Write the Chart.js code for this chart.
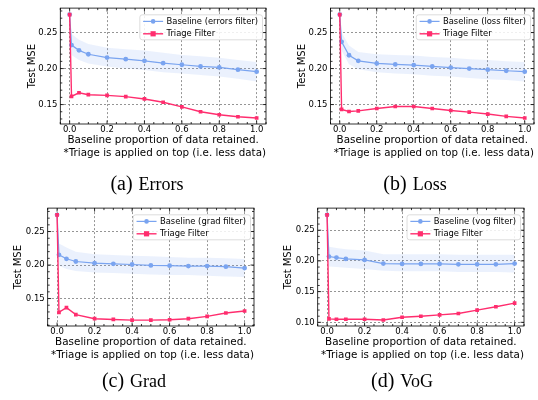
<!DOCTYPE html>
<html lang="en">
<head>
<meta charset="UTF-8">
<title>Triage filter vs baseline</title>
<script src="https://cdn.jsdelivr.net/npm/chart.js"></script>
<style>
    body { margin: 0; background: #fff; }
    #wrap { position: relative; width: 538px; height: 400px; overflow: hidden; }
    canvas { position: absolute; }
    .cap {
        position: absolute;
        font-family: 'Liberation Serif', 'Times New Roman', serif;
        font-size: 18px;
        color: #000;
        white-space: nowrap;
        transform: translate(-50%, -50%);
    }
    .cap span { font-size: 20px; margin-right: 6px; }
</style>
</head>
<body>
<div id="wrap">
    <canvas id="cA" width="270" height="200" style="left:0;top:0"></canvas>
    <canvas id="cB" width="268" height="200" style="left:270px;top:0"></canvas>
    <canvas id="cC" width="270" height="200" style="left:0;top:200px"></canvas>
    <canvas id="cD" width="268" height="200" style="left:270px;top:200px"></canvas>
    <div class="cap" style="left:147px;top:183px"><span>(a)</span>Errors</div>
    <div class="cap" style="left:415px;top:183px"><span>(b)</span>Loss</div>
    <div class="cap" style="left:134px;top:380px"><span>(c)</span>Grad</div>
    <div class="cap" style="left:402px;top:380px"><span>(d)</span>VoG</div>
</div>

<script>
// baseline proportion of data retained
const xVals = [0, 0.01, 0.05, 0.1, 0.2, 0.3, 0.4, 0.5, 0.6, 0.7, 0.8, 0.9, 1.0];
const xTicks = [0, 0.2, 0.4, 0.6, 0.8, 1.0];

// (a) errors
const errBase   = [0.275, 0.2326, 0.2253, 0.2199, 0.2153, 0.213, 0.2107, 0.2075, 0.2053, 0.203, 0.2016, 0.1985, 0.1957];
const errUpper  = [0.275, 0.248, 0.240, 0.234, 0.229, 0.227, 0.225, 0.222, 0.219, 0.217, 0.215, 0.212, 0.209];
const errLower  = [0.275, 0.219, 0.212, 0.207, 0.203, 0.200, 0.198, 0.195, 0.193, 0.191, 0.189, 0.186, 0.182];
const errTriage = [0.275, 0.1614, 0.1664, 0.1637, 0.1628, 0.161, 0.1578, 0.1532, 0.1468, 0.140, 0.1358, 0.1331, 0.1313];

// (b) loss
const lossBase   = [0.275, 0.2372, 0.2185, 0.2107, 0.2071, 0.2057, 0.2048, 0.203, 0.2014, 0.200, 0.1985, 0.197, 0.1957];
const lossUpper  = [0.275, 0.250, 0.232, 0.223, 0.220, 0.219, 0.218, 0.216, 0.215, 0.213, 0.212, 0.210, 0.209];
const lossLower  = [0.275, 0.225, 0.206, 0.199, 0.195, 0.193, 0.192, 0.190, 0.189, 0.187, 0.185, 0.184, 0.182];
const lossTriage = [0.275, 0.1432, 0.1404, 0.1413, 0.1445, 0.1473, 0.1473, 0.1445, 0.1418, 0.1395, 0.1368, 0.1336, 0.1313];

// (c) grad
const gradBase   = [0.275, 0.2153, 0.2093, 0.2053, 0.2028, 0.2018, 0.2008, 0.1995, 0.199, 0.1985, 0.1985, 0.1975, 0.1955];
const gradUpper  = [0.275, 0.232, 0.226, 0.220, 0.216, 0.215, 0.214, 0.213, 0.212, 0.211, 0.211, 0.210, 0.209];
const gradLower  = [0.275, 0.199, 0.194, 0.191, 0.189, 0.188, 0.187, 0.186, 0.185, 0.185, 0.184, 0.183, 0.182];
const gradTriage = [0.275, 0.1294, 0.1364, 0.1259, 0.1199, 0.1188, 0.1178, 0.1178, 0.1183, 0.1199, 0.1234, 0.1284, 0.1314];

// (d) vog
const vogBase   = [0.275, 0.2071, 0.2055, 0.2033, 0.2016, 0.1956, 0.1951, 0.1951, 0.1951, 0.1945, 0.1945, 0.1945, 0.1956];
const vogUpper  = [0.275, 0.223, 0.221, 0.219, 0.217, 0.211, 0.211, 0.211, 0.211, 0.210, 0.210, 0.210, 0.210];
const vogLower  = [0.275, 0.191, 0.190, 0.189, 0.187, 0.184, 0.183, 0.183, 0.183, 0.182, 0.182, 0.182, 0.181];
const vogTriage = [0.275, 0.1055, 0.105, 0.105, 0.105, 0.1038, 0.1082, 0.1099, 0.1121, 0.1143, 0.1198, 0.1253, 0.1313];

const yTicksABC = [0.15, 0.20, 0.25];
const yTicksD = [0.10, 0.15, 0.20, 0.25];

const BLUE = '#7aa4f0';
const PINK = '#ff2d6e';
const FONT = "'DejaVu Sans', sans-serif";

const pts = arr => xVals.map((x, i) => ({ x: x, y: arr[i] }));

// closed box with inward major/minor ticks on all four sides
const framePlugin = {
    id: 'frame',
    afterDraw(chart) {
        const { ctx, chartArea: a, scales: { x, y } } = chart;
        ctx.save();
        ctx.strokeStyle = '#000';
        ctx.lineWidth = 0.8;
        ctx.beginPath();
        const tick = (px, len, vertical) => {
            if (vertical) {
                ctx.moveTo(px, a.bottom); ctx.lineTo(px, a.bottom - len);
                ctx.moveTo(px, a.top); ctx.lineTo(px, a.top + len);
            } else {
                ctx.moveTo(a.left, px); ctx.lineTo(a.left + len, px);
                ctx.moveTo(a.right, px); ctx.lineTo(a.right - len, px);
            }
        };
        for (let k = -1; k <= 21; k++) {
            const v = k * 0.05;
            if (v < x.min || v > x.max) continue;
            tick(x.getPixelForValue(v), k % 4 === 0 ? 3.5 : 2, true);
        }
        for (let k = 5; k <= 30; k++) {
            const v = k * 0.01;
            if (v < y.min || v > y.max) continue;
            tick(y.getPixelForValue(v), k % 5 === 0 ? 3.5 : 2, false);
        }
        ctx.stroke();
        ctx.strokeRect(a.left, a.top, a.right - a.left, a.bottom - a.top);
        ctx.restore();
    }
};

// matplotlib-like legend box in the upper right of the plot
const legendPlugin = {
    id: 'boxLegend',
    afterDraw(chart) {
        const { ctx, chartArea: a } = chart;
        const items = chart.data.datasets.filter(d => d.legendRank)
            .sort((p, q) => p.legendRank - q.legendRank);
        ctx.save();
        ctx.font = '8.4px ' + FONT;
        const tw = Math.max(...items.map(d => ctx.measureText(d.label).width));
        const w = 3.3 + 20 + 3.4 + tw + 4.5;
        const h = 25;
        const bx = a.right - 3.5 - w;
        const by = a.top + 6.7;
        ctx.beginPath();
        ctx.roundRect(bx, by, w, h, 2.5);
        ctx.fillStyle = 'rgba(255,255,255,0.85)';
        ctx.fill();
        ctx.strokeStyle = '#d4d4d4';
        ctx.lineWidth = 0.8;
        ctx.stroke();
        items.forEach((d, i) => {
            const cy = by + 6.6 + i * 12.4;
            const lx = bx + 3.3;
            ctx.strokeStyle = d.borderColor;
            ctx.lineWidth = d.borderWidth;
            ctx.beginPath();
            ctx.moveTo(lx, cy); ctx.lineTo(lx + 20, cy);
            ctx.stroke();
            ctx.fillStyle = d.pointBackgroundColor;
            if (d.pointStyle === 'rect') {
                ctx.fillRect(lx + 10 - 2.6, cy - 2.6, 5.2, 5.2);
            } else {
                ctx.beginPath();
                ctx.arc(lx + 10, cy, 2.3, 0, Math.PI * 2);
                ctx.fill();
            }
            ctx.fillStyle = '#000';
            ctx.textBaseline = 'middle';
            ctx.fillText(d.label, lx + 23.4, cy + 0.5);
        });
        ctx.restore();
    }
};

function makePanel(id, p) {
    new Chart(document.getElementById(id), {
        type: 'line',
        data: {
            datasets: [
                {
                    label: 'Triage Filter', legendRank: 2, order: 0,
                    data: pts(p.triage),
                    borderColor: PINK, borderWidth: 1.4,
                    pointStyle: 'rect', pointRadius: 2.6,
                    pointBackgroundColor: PINK, pointBorderColor: PINK, pointBorderWidth: 0,
                    tension: 0
                },
                {
                    label: p.baseLabel, legendRank: 1, order: 1,
                    data: pts(p.base),
                    borderColor: BLUE, borderWidth: 1.2,
                    pointStyle: 'circle', pointRadius: 2.4,
                    pointBackgroundColor: BLUE, pointBorderColor: BLUE, pointBorderWidth: 0,
                    tension: 0
                },
                {
                    label: 'upper', order: 2,
                    data: pts(p.upper),
                    borderWidth: 0, pointRadius: 0,
                    fill: '+1', backgroundColor: 'rgba(122,164,240,0.15)'
                },
                {
                    label: 'lower', order: 2,
                    data: pts(p.lower),
                    borderWidth: 0, pointRadius: 0, fill: false
                }
            ]
        },
        options: {
            responsive: false,
            animation: false,
            devicePixelRatio: 1,
            layout: { padding: { left: 0, top: p.padTop, right: p.padRight, bottom: p.padBottom } },
            plugins: { legend: { display: false }, tooltip: { enabled: false } },
            scales: {
                x: {
                    type: 'linear', min: -0.05, max: 1.05,
                    afterBuildTicks: s => { s.ticks = xTicks.map(v => ({ value: v })); },
                    afterFit: s => { s.height = 35.24; },
                    grid: { color: '#7a7a7a', lineWidth: 0.8, drawTicks: false },
                    border: { display: false, dash: [2, 2] },
                    ticks: {
                        padding: 1, maxRotation: 0, color: '#000',
                        font: { family: FONT, size: 8.5 },
                        callback: v => v.toFixed(1)
                    },
                    title: {
                        display: true, color: '#000',
                        text: ['Baseline proportion of data retained.', ' *Triage is applied on top (i.e. less data)'],
                        font: { family: FONT, size: 10.4, lineHeight: 1.2 },
                        padding: { top: 0, bottom: 0 }
                    }
                },
                y: {
                    type: 'linear', min: p.yMin, max: p.yMax,
                    afterBuildTicks: s => { s.ticks = p.yTicks.map(v => ({ value: v })); },
                    afterFit: s => { s.width = p.yAxisW; },
                    grid: { color: '#7a7a7a', lineWidth: 0.8, drawTicks: false },
                    border: { display: false, dash: [2, 2] },
                    ticks: {
                        padding: 3, color: '#000',
                        font: { family: FONT, size: 8.5 },
                        callback: v => v.toFixed(2)
                    },
                    title: {
                        display: true, text: 'Test MSE', color: '#000',
                        font: { family: FONT, size: 10, lineHeight: 1.2 },
                        padding: { top: p.yTitlePad, bottom: 0 }
                    }
                }
            }
        },
        plugins: [framePlugin, legendPlugin]
    });
}

makePanel('cA', {
    baseLabel: 'Baseline (errors filter)', base: errBase, upper: errUpper, lower: errLower, triage: errTriage,
    yMin: 0.123, yMax: 0.284, yTicks: yTicksABC,
    padTop: 5, padRight: 3.7, padBottom: 40.76, yAxisW: 60.3, yTitlePad: 26
});
makePanel('cB', {
    baseLabel: 'Baseline (loss filter)', base: lossBase, upper: lossUpper, lower: lossLower, triage: lossTriage,
    yMin: 0.123, yMax: 0.284, yTicks: yTicksABC,
    padTop: 5, padRight: 2, padBottom: 40.76, yAxisW: 60.5, yTitlePad: 26
});
makePanel('cC', {
    baseLabel: 'Baseline (grad filter)', base: gradBase, upper: gradUpper, lower: gradLower, triage: gradTriage,
    yMin: 0.109, yMax: 0.285, yTicks: yTicksABC,
    padTop: 6.7, padRight: 16, padBottom: 38.76, yAxisW: 47.7, yTitlePad: 12.3
});
makePanel('cD', {
    baseLabel: 'Baseline (vog filter)', base: vogBase, upper: vogUpper, lower: vogLower, triage: vogTriage,
    yMin: 0.094, yMax: 0.286, yTicks: yTicksD,
    padTop: 6.7, padRight: 14, padBottom: 38.76, yAxisW: 47.7, yTitlePad: 12.3
});
</script>
</body>
</html>
